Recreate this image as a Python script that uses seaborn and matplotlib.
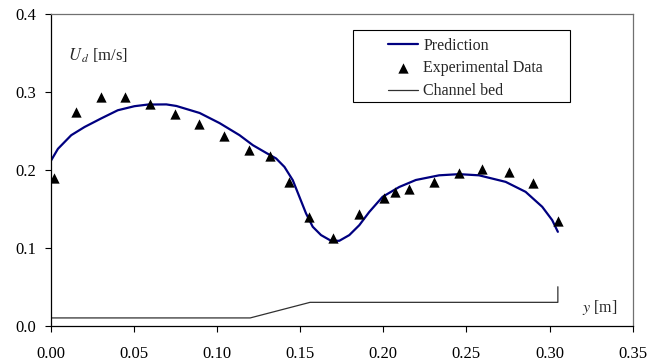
import numpy as np
import pandas as pd
import matplotlib
matplotlib.use("Agg")
import matplotlib.pyplot as plt
from matplotlib.patches import Rectangle
import seaborn as sns

# valores
pred_y_pos = [0.0, 0.0044, 0.0124, 0.0204, 0.0304, 0.0404, 0.0504, 0.0584, 0.0696,
              0.0756, 0.0896, 0.1016, 0.1136, 0.1216, 0.1296, 0.1356, 0.1406, 0.1456,
              0.1496, 0.1536, 0.1576, 0.1626, 0.1686, 0.1736, 0.1796, 0.1856, 0.1916,
              0.1996, 0.2096, 0.2196, 0.2336, 0.2456, 0.2576, 0.2736, 0.2856, 0.2956,
              0.3016, 0.305]
pred_ud = [0.211, 0.227, 0.2445, 0.255, 0.266, 0.2765, 0.2817, 0.2838, 0.284,
           0.282, 0.273, 0.260, 0.2445, 0.2317, 0.2218, 0.2146, 0.2038, 0.1868,
           0.1654, 0.144, 0.127, 0.1163, 0.109, 0.109, 0.1163, 0.129, 0.146,
           0.1654, 0.178, 0.187, 0.193, 0.1945, 0.193, 0.1846, 0.1718, 0.1526,
           0.1355, 0.1205]

exp_y_pos = [0.002, 0.015, 0.030, 0.045, 0.060, 0.075, 0.089, 0.104, 0.119, 0.132,
             0.1436, 0.1556, 0.170, 0.1856, 0.2006, 0.207, 0.2154, 0.2306, 0.2456,
             0.2596, 0.2754, 0.290, 0.305]
exp_ud = [0.190, 0.274, 0.294, 0.294, 0.284, 0.272, 0.259, 0.243, 0.226, 0.218,
          0.184, 0.139, 0.113, 0.143, 0.164, 0.171, 0.175, 0.185, 0.196,
          0.201, 0.197, 0.183, 0.134]

bed_y_pos = [0.0, 0.12, 0.156, 0.305, 0.305]
bed_z = [0.01, 0.01, 0.03, 0.03, 0.05]

x_ticks = [0.0, 0.05, 0.10, 0.15, 0.20, 0.25, 0.30, 0.35]
y_ticks = [0.0, 0.1, 0.2, 0.3, 0.4]

sns.set_theme(style="white")
plt.rcParams["font.family"] = ["Liberation Serif", "DejaVu Serif"]
plt.rcParams["mathtext.fontset"] = "stix"

df_pred = pd.DataFrame({"y": pred_y_pos, "Ud": pred_ud})
df_exp = pd.DataFrame({"y": exp_y_pos, "Ud": exp_ud})
df_bed = pd.DataFrame({"y": bed_y_pos, "z": bed_z})

fig = plt.figure(figsize=(6.66, 3.63), dpi=100)
ax = fig.add_axes([0.076, 0.1027, 0.874, 0.8587])

sns.lineplot(data=df_pred, x="y", y="Ud", color="#000080", linewidth=1.6,
             label="Prediction", ax=ax, sort=False, estimator=None)
sns.scatterplot(data=df_exp, x="y", y="Ud", marker="^", color="black", s=55,
                edgecolor="black", linewidth=0, label="Experimental Data", ax=ax, zorder=3)
sns.lineplot(data=df_bed, x="y", y="z", color="#303030", linewidth=0.9,
             label="Channel bed", ax=ax, sort=False, estimator=None)

ax.set_xlim(0, 0.35)
ax.set_ylim(0, 0.4)
ax.set_xticks(x_ticks)
ax.set_yticks(y_ticks)
ax.set_xticklabels([f"{v:.2f}" for v in x_ticks])
ax.set_yticklabels([f"{v:.1f}" for v in y_ticks])
ax.set_xlabel("")
ax.set_ylabel("")
ax.tick_params(axis="both", direction="out", length=4.5, width=0.8, labelsize=12,
               colors="black", bottom=True, left=True)
ax.tick_params(axis="x", pad=10)
ax.tick_params(axis="y", pad=6)

for side in ["left", "bottom"]:
    ax.spines[side].set_color("black")
    ax.spines[side].set_linewidth(0.9)
for side in ["top", "right"]:
    ax.spines[side].set_color("#707070")
    ax.spines[side].set_linewidth(0.9)

ax.text(0.0105, 0.347, r"$U_{\,d}$ [m/s]", fontsize=12, va="center", ha="left")
ax.text(0.3195, 0.023, r"$y$ [m]", fontsize=11.5, va="center", ha="left")

# caixa da legenda no estilo Excel (mais folga nas laterais)
ax.add_patch(Rectangle((0.5194, 0.7177), 0.3729, 0.231, transform=ax.transAxes,
                       facecolor="white", edgecolor="black", linewidth=0.8, zorder=4))
leg = ax.legend(loc="upper left", bbox_to_anchor=(0.5796, 0.924), fontsize=11.5,
                frameon=False, handlelength=1.9, labelspacing=0.42, borderpad=0,
                borderaxespad=0, handletextpad=0.3)
leg.set_zorder(5)

plt.savefig("out.png", dpi=100)
